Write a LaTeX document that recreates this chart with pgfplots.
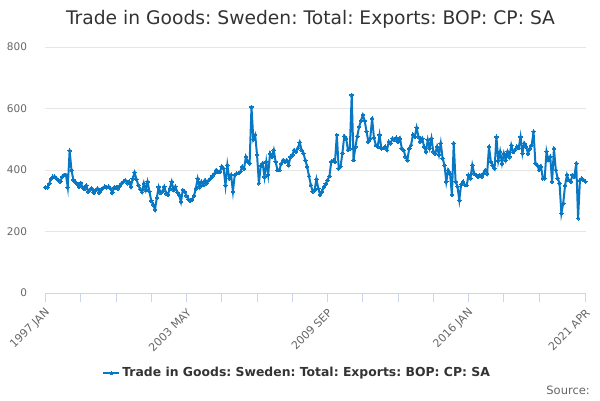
\documentclass[border=0pt]{standalone}
\usepackage{pgfplots}
\pgfplotsset{compat=1.18}
\usepackage{fontspec}
\setmainfont{DejaVu Sans}
\frenchspacing
\definecolor{ser}{RGB}{8,120,196}
\definecolor{gridc}{RGB}{230,230,230}
\definecolor{axc}{RGB}{204,214,235}
\definecolor{lab}{RGB}{102,102,102}
\definecolor{ttl}{RGB}{51,51,51}
\begin{document}
\frenchspacing
\begin{tikzpicture}[x=1pt,y=1pt]
\path[use as bounding box] (0,0) rectangle (600,400);
\node[font=\fontsize{18.7}{21}\selectfont, text=ttl] at (310.5,381) {Trade in Goods: Sweden: Total: Exports: BOP: CP: SA};
\node[font=\fontsize{11.5}{13}\selectfont, text=lab, anchor=east, inner sep=0pt] at (590,10) {Source:};
\begin{axis}[
  at={(45.5pt,107pt)}, anchor=south west,
  scale only axis, width=540pt, height=246pt,
  xmin=0, xmax=291, ymin=0, ymax=800,
  axis x line*=bottom, axis y line*=left,
  y axis line style={draw=none},
  x axis line style={draw=axc, line width=1pt},
  ytick={0,200,400,600,800},
  ymajorgrids, grid style={draw=gridc, line width=0.8pt},
  ytick style={draw=none},
  yticklabel style={font=\fontsize{10.5}{12}\selectfont, text=lab, xshift=-6pt},
  xtick={0,76,152,228,291},
  xticklabels={1997 JAN,2003 MAY,2009 SEP,2016 JAN,2021 APR},
  minor xtick={19,38,57,95,114,133,171,190,209,247,266},
  xtick style={draw=axc, line width=0.8pt},
  minor tick style={draw=axc, line width=0.8pt},
  major tick length=9pt, minor tick length=9pt,
  tick align=outside,
  xticklabel style={font=\fontsize{11}{13}\selectfont, text=lab, rotate=45, anchor=east, yshift=-8pt, xshift=-1pt},
  /pgf/number format/assume math mode=true,
  legend style={at={(0.466,-0.325)}, anchor=center, draw=none, fill=none,
     font=\fontsize{12.4}{14}\selectfont\bfseries, text=ttl},
  legend cell align=left,
  legend image code/.code={\draw[mark repeat=2,mark phase=2] plot coordinates {(0pt,0pt) (8pt,0pt) (16pt,0pt)};},
  clip=false,
]
\addplot[ser, line width=2pt, mark=*, mark size=1.8pt, mark options={fill=ser, draw=ser, line width=0pt}]
 table[row sep=\\, x expr=\coordindex, y=v] {
v\\
344\\ 344\\ 355\\ 372\\ 378\\ 378\\ 372\\ 367\\ 362\\ 378\\
384\\ 384\\ 344\\ 463\\ 400\\ 368\\ 362\\ 355\\ 346\\ 358\\
345\\ 338\\ 350\\ 330\\ 337\\ 340\\ 326\\ 335\\ 340\\ 326\\
337\\ 342\\ 346\\ 344\\ 346\\ 340\\ 326\\ 344\\ 344\\ 340\\
348\\ 357\\ 362\\ 367\\ 357\\ 362\\
346\\ 372\\ 392\\ 370\\ 351\\ 338\\ 328\\ 357\\ 335\\ 362\\
330\\ 300\\ 288\\ 272\\ 310\\ 345\\ 326\\ 330\\ 346\\ 324\\
320\\ 340\\ 362\\ 335\\ 346\\ 328\\ 320\\ 296\\ 335\\ 330\\
316\\ 305\\ 300\\ 304\\ 316\\ 340\\ 372\\ 345\\ 362\\ 351\\
367\\ 357\\ 367\\ 373\\ 381\\ 388\\ 400\\ 394\\
394\\ 412\\ 405\\ 350\\ 416\\ 373\\ 384\\ 330\\ 384\\ 389\\
390\\ 394\\ 411\\ 405\\ 443\\ 427\\ 422\\ 605\\ 500\\ 514\\
449\\ 357\\ 414\\ 422\\ 378\\ 427\\ 384\\ 454\\ 443\\ 465\\
427\\ 400\\ 400\\ 420\\ 432\\ 427\\ 432\\ 416\\ 443\\ 449\\
465\\ 460\\ 471\\ 490\\ 465\\ 454\\ 432\\ 411\\ 380\\ 351\\
330\\ 335\\ 370\\ 340\\ 319\\ 330\\ 345\\ 355\\ 367\\ 380\\
427\\ 430\\ 427\\ 514\\ 405\\ 411\\ 455\\ 510\\ 503\\ 465\\
470\\ 644\\ 432\\ 475\\ 510\\ 540\\ 560\\ 579\\ 560\\ 525\\
492\\ 503\\ 568\\ 505\\ 481\\ 476\\ 514\\ 470\\ 471\\ 476\\
465\\ 492\\ 487\\ 503\\ 498\\ 505\\ 492\\ 503\\
471\\ 465\\ 443\\ 432\\ 470\\ 481\\ 515\\ 508\\ 538\\ 508\\
492\\ 503\\ 476\\ 460\\ 498\\ 471\\ 503\\ 460\\ 454\\ 476\\
449\\ 487\\ 438\\ 416\\ 362\\ 400\\ 389\\ 319\\ 487\\ 362\\
346\\ 302\\ 354\\ 362\\ 351\\ 351\\ 384\\ 373\\ 416\\ 389\\
384\\ 378\\ 384\\ 378\\ 389\\ 400\\ 389\\
476\\ 427\\ 415\\ 405\\ 508\\ 430\\ 460\\ 422\\ 454\\ 432\\
460\\ 443\\ 481\\ 458\\ 465\\ 476\\ 471\\ 508\\ 454\\ 487\\
476\\ 454\\ 470\\ 481\\ 525\\ 422\\ 416\\ 400\\ 411\\ 373\\
373\\ 460\\ 432\\ 443\\ 362\\ 470\\ 400\\ 373\\ 357\\ 259\\
292\\ 350\\ 384\\ 367\\ 362\\ 384\\ 378\\ 422\\ 243\\ 367\\
373\\ 367\\ 362\\
};
\addlegendentry{Trade in Goods: Sweden: Total: Exports: BOP: CP: SA}
\end{axis}
\end{tikzpicture}
\end{document}
